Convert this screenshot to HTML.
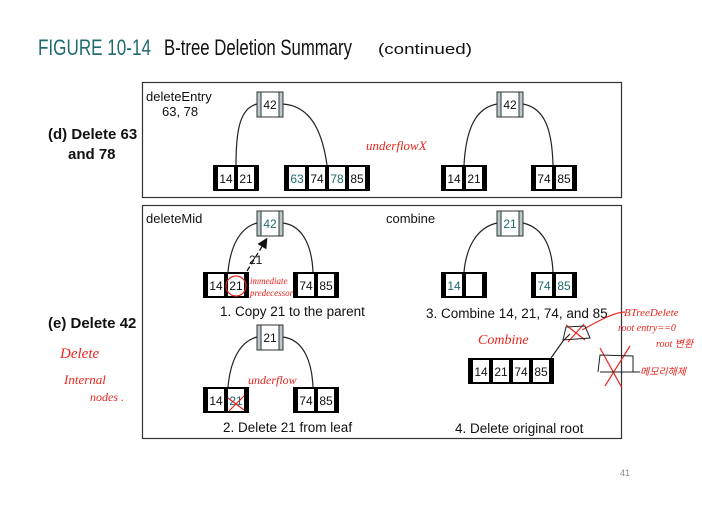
<!DOCTYPE html>
<html><head><meta charset="utf-8"><style>
html,body{margin:0;padding:0;background:#fff;}
svg{display:block;}
text{font-family:"Liberation Sans",Arial,sans-serif;}
.k{font-size:12px;text-anchor:middle;fill:#111;}
.t{fill:#1f6b70;}
.r{fill:#e8261f;font-family:"Liberation Serif",serif;font-style:italic;}
</style></head><body>
<svg width="702" height="505" viewBox="0 0 702 505" xmlns="http://www.w3.org/2000/svg">
<defs>
<marker id="ah" markerWidth="8" markerHeight="8" refX="6" refY="4" orient="auto"><path d="M0,0 L8,4 L0,8 z" fill="#111"/></marker>
</defs>
<text x="38" y="55" font-size="22" fill="#1f6b70" textLength="113" lengthAdjust="spacingAndGlyphs">FIGURE 10-14</text>
<text x="164" y="55" font-size="22" fill="#111" textLength="188" lengthAdjust="spacingAndGlyphs">B-tree Deletion Summary</text>
<text x="378" y="54" font-size="15" fill="#111" font-family="DejaVu Sans" textLength="94" lengthAdjust="spacingAndGlyphs">(continued)</text>

<rect x="142.5" y="82.5" width="479" height="115" fill="none" stroke="#333" stroke-width="1.2"/>
<rect x="142.5" y="205.5" width="479" height="233" fill="none" stroke="#333" stroke-width="1.2"/>

<text x="48" y="139" font-size="15" font-weight="bold" fill="#111">(d) Delete 63</text>
<text x="68" y="159" font-size="15" font-weight="bold" fill="#111">and 78</text>
<text x="48" y="328" font-size="15" font-weight="bold" fill="#111">(e) Delete 42</text>
<text x="60" y="358" font-size="15" class="r">Delete</text>
<text x="64" y="384" font-size="13" class="r">Internal</text>
<text x="90" y="401" font-size="12" class="r">nodes .</text>

<text x="146" y="101" font-size="13" fill="#111">deleteEntry</text>
<text x="162" y="116" font-size="13" fill="#111">63, 78</text>
<text x="366" y="150" font-size="13" class="r">underflowX</text>
<text x="146" y="223" font-size="13" fill="#111">deleteMid</text>
<text x="386" y="223" font-size="13" fill="#111">combine</text>

<g fill="none" stroke="#222" stroke-width="1.2">
<path d="M257,104 C240,108 236,130 236,165"/>
<path d="M283,104 C310,106 322,130 327,165"/>
<path d="M497,104 C475,108 466,130 464,165"/>
<path d="M523,104 C545,108 552,130 553,165"/>
<path d="M257,223 C238,228 230,250 228,272"/>
<path d="M283,223 C305,226 312,250 313,272"/>
<path d="M257,337 C238,342 230,364 228,387"/>
<path d="M283,337 C305,340 312,364 313,387"/>
<path d="M497,223 C475,228 466,250 464,272"/>
<path d="M523,223 C545,228 552,250 553,272"/>
<path d="M551,358 L563,341 L570,334"/>
</g>
<line x1="247" y1="271" x2="266" y2="240" stroke="#111" stroke-width="1.3" stroke-dasharray="5,3" marker-end="url(#ah)"/>
<text x="249" y="264" font-size="12" fill="#111">21</text>

<!-- roots -->
<g stroke="#333" stroke-width="1">
<rect x="257" y="92" width="26" height="25" fill="#b9c9cc"/><rect x="261" y="92" width="18" height="25" fill="#fff"/>
<rect x="497" y="92" width="26" height="25" fill="#b9c9cc"/><rect x="501" y="92" width="18" height="25" fill="#fff"/>
<rect x="257" y="211" width="26" height="25" fill="#b9c9cc"/><rect x="261" y="211" width="18" height="25" fill="#fff"/>
<rect x="257" y="325" width="26" height="25" fill="#b9c9cc"/><rect x="261" y="325" width="18" height="25" fill="#fff"/>
<rect x="497" y="211" width="26" height="25" fill="#b9c9cc"/><rect x="501" y="211" width="18" height="25" fill="#fff"/>
</g>
<text class="k" x="270" y="109">42</text>
<text class="k" x="510" y="109">42</text>
<text class="k t" x="270" y="228">42</text>
<text class="k" x="270" y="342">21</text>
<text class="k t" x="510" y="228">21</text>

<!-- leaves -->
<g fill="#000">
<rect x="213" y="165" width="46" height="26"/>
<rect x="284" y="165" width="86" height="26"/>
<rect x="441" y="165" width="46" height="26"/>
<rect x="531" y="165" width="46" height="26"/>
<rect x="203" y="272" width="46" height="26"/>
<rect x="293" y="272" width="46" height="26"/>
<rect x="203" y="387" width="46" height="26"/>
<rect x="293" y="387" width="46" height="26"/>
<rect x="441" y="272" width="46" height="26"/>
<rect x="531" y="272" width="46" height="26"/>
<rect x="468" y="358" width="86" height="26"/>
</g>
<g fill="#fff">
<rect x="218" y="167" width="16" height="22"/><rect x="238" y="167" width="16" height="22"/>
<rect x="289" y="167" width="16" height="22"/><rect x="309" y="167" width="16" height="22"/><rect x="329" y="167" width="16" height="22"/><rect x="349" y="167" width="16" height="22"/>
<rect x="446" y="167" width="16" height="22"/><rect x="466" y="167" width="16" height="22"/>
<rect x="536" y="167" width="16" height="22"/><rect x="556" y="167" width="16" height="22"/>
<rect x="208" y="274" width="16" height="22"/><rect x="228" y="274" width="16" height="22"/>
<rect x="298" y="274" width="16" height="22"/><rect x="318" y="274" width="16" height="22"/>
<rect x="208" y="389" width="16" height="22"/><rect x="228" y="389" width="16" height="22"/>
<rect x="298" y="389" width="16" height="22"/><rect x="318" y="389" width="16" height="22"/>
<rect x="446" y="274" width="16" height="22"/><rect x="466" y="274" width="16" height="22"/>
<rect x="536" y="274" width="16" height="22"/><rect x="556" y="274" width="16" height="22"/>
<rect x="473" y="360" width="16" height="22"/><rect x="493" y="360" width="16" height="22"/><rect x="513" y="360" width="16" height="22"/><rect x="533" y="360" width="16" height="22"/>
</g>
<g>
<text class="k" x="226" y="183">14</text><text class="k" x="246" y="183">21</text>
<text class="k t" x="297" y="183">63</text><text class="k" x="317" y="183">74</text><text class="k t" x="337" y="183">78</text><text class="k" x="357" y="183">85</text>
<text class="k" x="454" y="183">14</text><text class="k" x="474" y="183">21</text>
<text class="k" x="544" y="183">74</text><text class="k" x="564" y="183">85</text>
<text class="k" x="216" y="290">14</text><text class="k" x="236" y="290">21</text>
<text class="k" x="306" y="290">74</text><text class="k" x="326" y="290">85</text>
<text class="k" x="216" y="405">14</text><text class="k t" x="236" y="405">21</text>
<text class="k" x="306" y="405">74</text><text class="k" x="326" y="405">85</text>
<text class="k t" x="454" y="290">14</text>
<text class="k t" x="544" y="290">74</text><text class="k t" x="564" y="290">85</text>
<text class="k" x="481" y="376">14</text><text class="k" x="501" y="376">21</text><text class="k" x="521" y="376">74</text><text class="k" x="541" y="376">85</text>
</g>

<text x="220" y="316" font-size="13.5" fill="#111">1. Copy 21 to the parent</text>
<text x="223" y="432" font-size="13.5" fill="#111">2. Delete 21 from leaf</text>
<text x="426" y="318" font-size="13.5" fill="#111">3. Combine 14, 21, 74, and 85</text>
<text x="455" y="433" font-size="13.5" fill="#111">4. Delete original root</text>

<!-- red annotations -->
<g fill="none" stroke="#e8261f" stroke-width="1.2">
<circle cx="236" cy="286" r="10"/>
<path d="M228,398 L244,410 M244,396 L229,411"/>
<path d="M566,325 L585,340 M584,324 L568,342"/>
<path d="M600,348 L622,388 M630,346 L605,386"/>
<path d="M582,330 C600,320 615,312 625,312"/>
</g>
<g fill="none" stroke="#222" stroke-width="1">
<path d="M563,340 L566,327 L585,326 L590,338 Z"/>
<path d="M598,372 L600,355 L633,356 L633,372 L600,372 M628,372 L640,372"/>
</g>
<text x="250" y="284" font-size="9" class="r">immediate</text>
<text x="250" y="296" font-size="9" class="r">predecessor</text>
<text x="248" y="384" font-size="12" class="r">underflow</text>
<text x="478" y="344" font-size="14" class="r">Combine</text>
<text x="624" y="316" font-size="11" class="r">BTreeDelete</text>
<text x="618" y="331" font-size="10" class="r">root entry==0</text>
<text x="656" y="347" font-size="10" class="r">root 변환</text>
<text x="640" y="375" font-size="10" class="r">메모리해제</text>

<text x="620" y="476" font-size="9" fill="#888">41</text>
</svg>
</body></html>
